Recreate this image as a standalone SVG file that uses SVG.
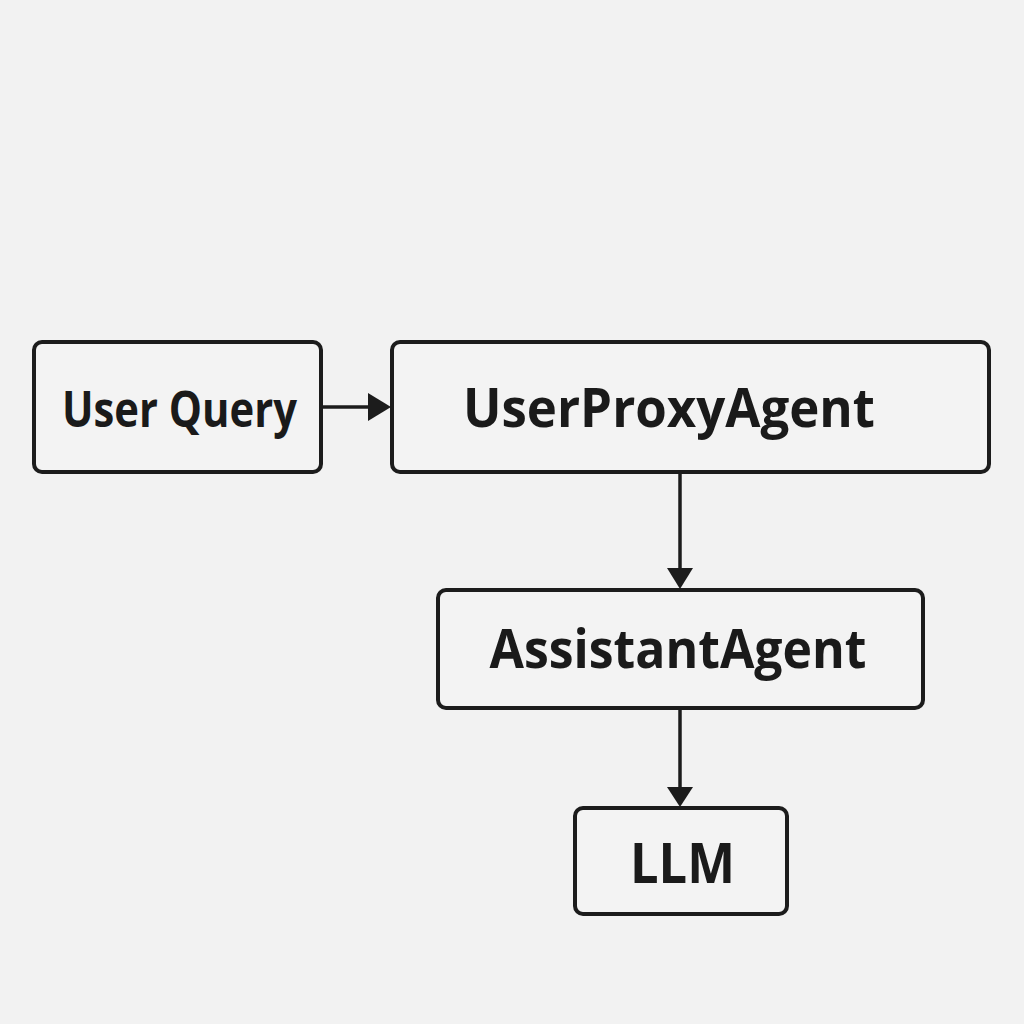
<svg xmlns="http://www.w3.org/2000/svg" width="1024" height="1024" viewBox="0 0 1024 1024">
<defs>
<style>
.box{fill:#f3f3f3;stroke:#1c1c1c;stroke-width:4}
.lbl{font-family:"Open Sans","Noto Sans",sans-serif;font-weight:700;fill:#1a1a1a;text-anchor:middle}
.edge{stroke:#1c1c1c;stroke-width:3.5;fill:none}
.head{fill:#1c1c1c}
</style>
</defs>
<rect width="1024" height="1024" fill="#f2f2f2"/>
<g id="connectors">
<line class="edge" x1="321" y1="407" x2="370" y2="407"/>
<path class="head" d="M368,393 L391,407 L368,421 Z"/>
<line class="edge" x1="680" y1="472" x2="680" y2="570"/>
<path class="head" d="M667,568 L680,589 L693,568 Z"/>
<line class="edge" x1="680" y1="708" x2="680" y2="788"/>
<path class="head" d="M667,787 L680,807 L693,787 Z"/>
</g>
<g id="user-query">
<rect class="box" x="34" y="342" width="287" height="130" rx="8"/>
<text class="lbl" x="179.5" y="427" font-size="50" textLength="235" lengthAdjust="spacingAndGlyphs">User Query</text>
</g>
<g id="user-proxy-agent">
<rect class="box" x="392" y="342" width="597" height="130" rx="8"/>
<text class="lbl" x="669" y="427" font-size="53" textLength="412" lengthAdjust="spacingAndGlyphs">UserProxyAgent</text>
</g>
<g id="assistant-agent">
<rect class="box" x="438" y="590" width="485" height="118" rx="8"/>
<text class="lbl" x="678" y="668" font-size="54" textLength="377" lengthAdjust="spacingAndGlyphs">AssistantAgent</text>
</g>
<g id="llm">
<rect class="box" x="575" y="808" width="212" height="106" rx="8"/>
<text class="lbl" x="682.5" y="883" font-size="55" textLength="105" lengthAdjust="spacingAndGlyphs">LLM</text>
</g>
</svg>
